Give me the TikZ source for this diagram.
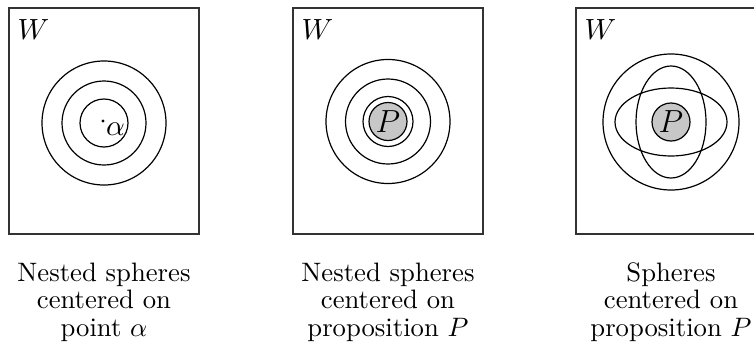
\documentclass[tikz,border=0pt]{standalone}
\begin{document}
\begin{tikzpicture}[x=0.375pt,y=-0.375pt,
  frame/.style={draw=black!80,line width=0.55pt},
  ring/.style={draw=black,line width=0.45pt},
  prop/.style={ring,fill=black!22,circle,minimum size=14.25pt,inner sep=0pt,font=\fontsize{12}{14}\selectfont},
  lbl/.style={inner sep=0pt,anchor=base west,font=\fontsize{10.5}{12}\selectfont},
  captext/.style={inner sep=0pt,anchor=base}]
\clip (0,0) rectangle (754,353);
\fill[white] (0,0) rectangle (754,353);
% frames
\draw[frame] (9,8) rectangle (199,234);
\draw[frame] (293,8) rectangle (483,234);
\draw[frame] (576,8) rectangle (766,234);
\node[lbl] (w1) at (17,39) {$W$};
\node[lbl] (w2) at (301,39) {$W$};
\node[lbl] (w3) at (584,39) {$W$};
% panel 1
\coordinate (c1) at (104,123);
\draw[ring] (c1) circle[radius=62];
\draw[ring] (c1) circle[radius=42];
\draw[ring] (c1) circle[radius=24];
\fill (103,121) circle[radius=1.6];
\node[lbl,font=\fontsize{11}{13}\selectfont] (alpha) at (105.5,135) {$\alpha$};
% panel 2
\coordinate (c2) at (388,121.5);
\draw[ring] (c2) circle[radius=62];
\draw[ring] (c2) circle[radius=42.5];
\draw[ring] (c2) circle[radius=25];
\node[prop] (p2) at (c2) {$P$};
% panel 3
\coordinate (c3) at (671,122);
\draw[ring] (c3) circle[radius=68];
\draw[ring] (c3) ellipse[x radius=56,y radius=34];
\draw[ring] (c3) ellipse[x radius=35,y radius=56];
\node[prop] (p3) at (c3) {$P$};
% captions
\node[captext] (t1a) at (104,281) {Nested spheres};
\node[captext] (t1b) at (104,308.5) {centered on};
\node[captext] (t1c) at (104,336) {point $\alpha$};
\node[captext] (t2a) at (388,281) {Nested spheres};
\node[captext] (t2b) at (388,308.5) {centered on};
\node[captext] (t2c) at (388,336) {proposition $P$};
\node[captext] (t3a) at (671,281) {Spheres};
\node[captext] (t3b) at (671,308.5) {centered on};
\node[captext] (t3c) at (671,336) {proposition $P$};
\end{tikzpicture}
\end{document}
